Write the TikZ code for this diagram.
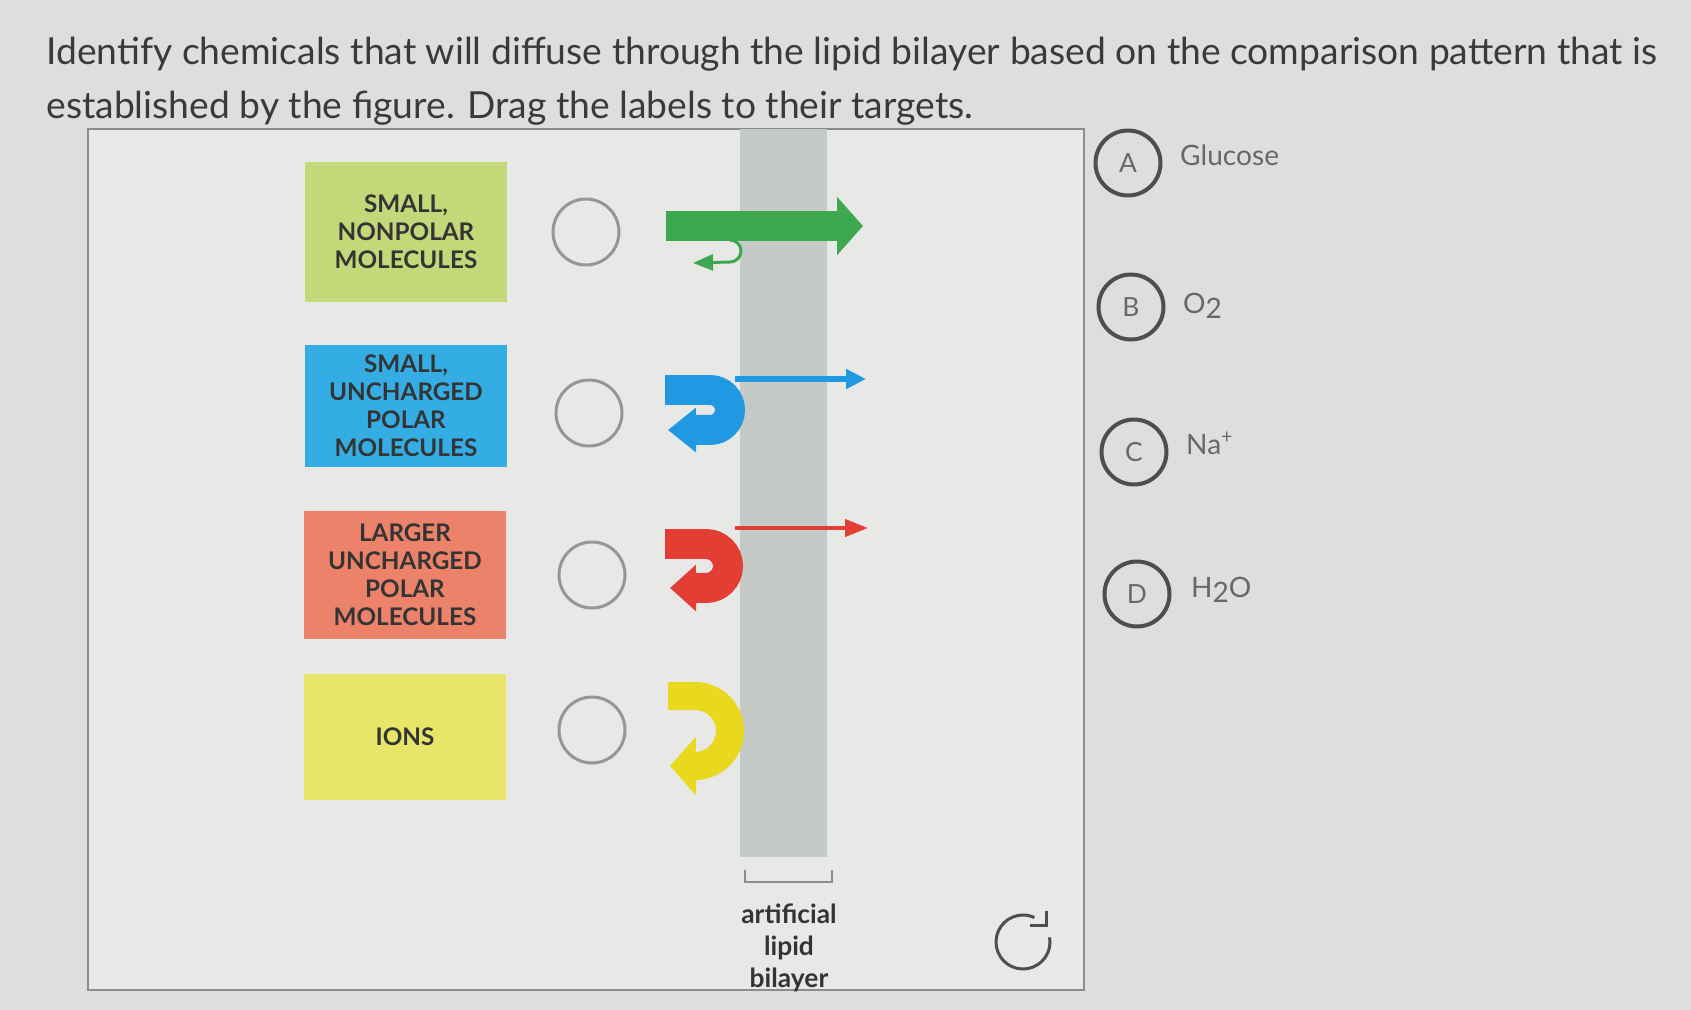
\documentclass[tikz,border=0pt]{standalone}
\usepackage{fontspec}
\setmainfont{Lato}
\usetikzlibrary{arrows.meta,positioning}
\definecolor{pagebg}{RGB}{222,222,220}
\definecolor{panelbg}{RGB}{232,232,230}
\definecolor{panelline}{RGB}{140,140,140}
\definecolor{titletext}{RGB}{58,58,58}
\definecolor{labeltext}{RGB}{52,52,52}
\definecolor{boxgreen}{RGB}{196,216,122}
\definecolor{boxblue}{RGB}{52,172,228}
\definecolor{boxred}{RGB}{236,130,106}
\definecolor{boxyellow}{RGB}{232,230,104}
\definecolor{arrgreen}{RGB}{62,168,78}
\definecolor{arrblue}{RGB}{32,152,226}
\definecolor{arrred}{RGB}{226,62,52}
\definecolor{arryellow}{RGB}{232,216,30}
\definecolor{bilayer}{RGB}{198,202,198}
\definecolor{ringgray}{RGB}{150,150,150}
\definecolor{darkring}{RGB}{78,78,78}
\definecolor{optgray}{RGB}{104,104,104}

\begin{document}
\begin{tikzpicture}[x=0.02cm,y=-0.02cm,
  molbox/.style={fill=#1,minimum width=4.04cm,align=center,text=labeltext,
    font=\fontsize{13.8}{16}\selectfont\bfseries},
  target/.style={circle,draw=ringgray,line width=0.06cm,minimum size=1.32cm,inner sep=0pt},
  choice/.style={circle,draw=darkring,line width=0.08cm,minimum size=1.3cm,inner sep=0pt,
    text=optgray,font=\fontsize{15}{18}\selectfont},
  choicetext/.style={anchor=west,text=optgray,font=\fontsize{16}{19}\selectfont},
  band/.style={line width=#1,line cap=butt}]
  \fill[pagebg] (0,0) rectangle (1691,1010);
  \useasboundingbox (0,0) rectangle (1691,1010);

  % question
  \node[anchor=base west,text=titletext,font=\fontsize{21.2}{25}\selectfont,inner sep=0pt] (title1) at (46,65)
    {Identify chemicals that will diffuse through the lipid bilayer based on the comparison pattern that is};
  \node[anchor=base west,text=titletext,font=\fontsize{21.2}{25}\selectfont,inner sep=0pt] (title2) at (46,119)
    {established by the figure. Drag the labels to their targets.};

  % figure panel
  \filldraw[fill=panelbg,draw=panelline,line width=0.04cm] (88,129) rectangle (1084,990);
  \fill[bilayer] (740,129) rectangle (827,857);
  \draw[panelline,line width=0.04cm] (745,870) -- (745,882) -- (832,882) -- (832,870);
  \node[align=center,text=labeltext,font=\fontsize{15}{18.4}\selectfont\bfseries] (bilabel) at (789,948)
    {artificial\\lipid\\bilayer};

  % molecule classes
  \node[molbox=boxgreen,minimum height=2.82cm] (nonpolar) at (406,232) {SMALL,\\NONPOLAR\\MOLECULES};
  \node[molbox=boxblue,minimum height=2.46cm] (polar) at (406,406) {SMALL,\\UNCHARGED\\POLAR\\MOLECULES};
  \node[molbox=boxred,minimum height=2.58cm] (larger) at (405,575) {LARGER\\UNCHARGED\\POLAR\\MOLECULES};
  \node[molbox=boxyellow,minimum height=2.54cm] (ions) at (405,737) {IONS};

  % drop targets
  \node[target] (tnonpolar) at (586,232) {};
  \node[target] (tpolar) at (589,413) {};
  \node[target] (tlarger) at (592,575) {};
  \node[target] (tions) at (592,730) {};

  % passage through the bilayer
  \draw[band=0.6cm,arrgreen,-{Triangle[length=0.52cm,width=1.14cm]}] (666,226) -- (863,226);
  \draw[arrgreen,line width=0.06cm,-{Triangle[length=0.4cm,width=0.32cm]}]
    (730,240) arc[start angle=90,end angle=-90,radius=0.22cm] -- (693,263);

  \draw[band=0.6cm,arrblue,-{Triangle[length=0.56cm,width=0.86cm]}]
    (665,390) -- (710,390) arc[start angle=90,end angle=-90,radius=0.4cm] -- (668,430);
  \draw[arrblue,line width=0.13cm,-{Triangle[length=0.4cm,width=0.38cm]}] (735,379) -- (866,379);

  \draw[band=0.6cm,arrred,-{Triangle[length=0.52cm,width=0.9cm]}]
    (665,544) -- (706,544) arc[start angle=90,end angle=-90,radius=0.44cm] -- (670,588);
  \draw[arrred,line width=0.08cm,-{Triangle[length=0.46cm,width=0.34cm]}] (735,528) -- (868,528);

  \draw[band=0.56cm,arryellow,-{Triangle[length=0.52cm,width=1.14cm]}]
    (668,696) -- (695,696) arc[start angle=90,end angle=-90,radius=0.7cm] -- (670,766);

  % reset icon
  \draw[darkring,line width=0.06cm] (1023,942) ++(10:0.54cm) arc[start angle=10,end angle=-295,radius=0.54cm];
  \draw[darkring,line width=0.06cm] (1030,925) -- (1046,925) -- (1046,911);

  % answer choices
  \node[choice] (cA) at (1128,163) {A};
  \node[choice] (cB) at (1131,307) {B};
  \node[choice] (cC) at (1134,452) {C};
  \node[choice] (cD) at (1137,594) {D};
  \node[choicetext] (glucose) at (1174,155) {Glucose};
  \node[choicetext] (oxygen) at (1177,306) {O\raisebox{-0.35ex}{2}};
  \node[choicetext] (sodium) at (1180,443) {Na\textsuperscript{+}};
  \node[choicetext] (water) at (1185,590) {H\raisebox{-0.35ex}{2}O};
\end{tikzpicture}
\end{document}
